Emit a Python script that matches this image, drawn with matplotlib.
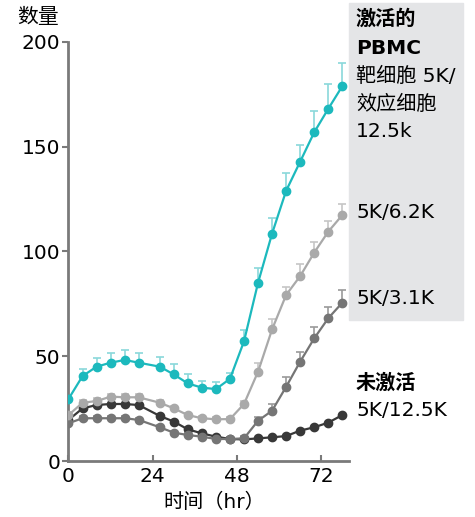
import matplotlib.pyplot as plt

plt.rcParams['font.family'] = ['DejaVu Sans', 'Noto Sans CJK SC']

# 时间点 (hr)
hours = [0, 4, 8, 12, 16, 20, 26, 30, 34, 38, 42, 46, 50, 54, 58, 62, 66, 70, 74, 78]

# 激活的 PBMC 靶细胞 5K/效应细胞 12.5k
act_12 = [29.6, 40.5, 45.0, 46.9, 48.2, 46.9, 45.0, 41.3, 37.0, 35.0, 34.3, 39.2,
          57.1, 85.0, 108.5, 128.9, 142.8, 156.8, 168.0, 178.8]
act_12_err = [0.5, 3.2, 4.0, 4.8, 4.7, 4.8, 4.5, 4.8, 4.3, 3.3, 3.3, 2.9,
              5.4, 6.9, 7.5, 8.3, 7.8, 10.2, 11.7, 10.9]
# 5K/6.2K
act_6 = [21.9, 27.8, 28.6, 30.7, 30.4, 30.4, 27.8, 25.1, 21.9, 20.4, 19.9, 20.0,
         27.2, 42.6, 62.8, 79.2, 88.2, 99.4, 109.4, 117.3]
act_6_err = [1.0, 1.5, 1.5, 1.5, 1.5, 1.5, 1.5, 1.2, 1.0, 1.0, 1.0, 1.0,
             1.5, 4.0, 5.0, 3.7, 5.7, 5.2, 5.2, 5.2]
# 5K/3.1K
act_3 = [18.0, 20.4, 20.4, 20.4, 20.4, 19.6, 16.1, 13.5, 12.4, 11.6, 10.5, 10.5,
         10.8, 19.2, 24.0, 35.4, 47.4, 58.5, 68.1, 75.5]
act_3_err = [1.0, 1.0, 1.0, 1.0, 1.0, 1.0, 1.0, 1.0, 1.0, 1.0, 1.0, 1.0,
             1.0, 2.0, 3.3, 4.7, 4.8, 5.3, 5.5, 6.3]
# 未激活 5K/12.5K
rest = [19.6, 25.1, 26.7, 27.2, 27.2, 26.7, 21.5, 18.8, 15.1, 13.2, 11.6, 10.5,
        10.3, 10.8, 11.3, 11.9, 14.5, 16.1, 18.3, 21.9]

teal = '#1cb9bd'
lgray = '#a9a9a9'
mgray = '#757575'
dgray = '#383838'

fig = plt.figure(figsize=(4.75, 5.17), dpi=100)
ax = fig.add_axes([0.1442, 0.1083, 0.5912, 0.8110])

# 灰色背景框
fig.patches.append(plt.Rectangle((349 / 475, 1 - 320 / 517), 114 / 475, 317 / 517,
                                 transform=fig.transFigure, color='#e4e5e7', zorder=0))


def series(y, err, col, ecol):
    if err is not None:
        ax.errorbar(hours, y, yerr=[[0] * len(err), err], fmt='none', ecolor=ecol,
                    elinewidth=1.2, capsize=3, capthick=1.2, zorder=2)
    ax.plot(hours, y, '-o', color=col, lw=1.6, ms=6, zorder=3)


series(rest, None, dgray, dgray)
series(act_3, act_3_err, mgray, '#9a9a9a')
series(act_6, act_6_err, lgray, '#c6c6c6')
series(act_12, act_12_err, teal, '#8ad8da')

ax.set_xlim(0, 80)
ax.set_ylim(0, 200)
ax.set_xticks([0, 24, 48, 72])
ax.set_yticks([0, 50, 100, 150, 200])
for s in ['top', 'right']:
    ax.spines[s].set_visible(False)
for s in ['left', 'bottom']:
    ax.spines[s].set_color('#7a7a7a')
    ax.spines[s].set_linewidth(2)
ax.tick_params(axis='y', direction='out', length=4, width=1.5, color='#7a7a7a',
               labelsize=14.5, pad=2)
ax.tick_params(axis='x', direction='in', length=4, width=1.5, color='#7a7a7a',
               labelsize=14.5, pad=4)
ax.set_xlabel('时间（hr）', fontsize=14.5)
ax.xaxis.set_label_coords(0.52, -0.075)
fig.text(17 / 475, 1 - 17 / 517, '数量', fontsize=15, va='center', ha='left')

tx = 356 / 475
labels = [
    (19, '激活的', 'bold'),
    (48, 'PBMC', 'bold'),
    (76, '靶细胞 5K/', 'normal'),
    (104, '效应细胞', 'normal'),
    (132, '12.5k', 'normal'),
    (213, '5K/6.2K', 'normal'),
    (298, '5K/3.1K', 'normal'),
    (383, '未激活', 'bold'),
    (411, '5K/12.5K', 'normal'),
]
for yp, t, w in labels:
    fig.text(tx, 1 - yp / 517, t, fontsize=14.5, fontweight=w, va='center', ha='left')

fig.savefig('out.png', dpi=100)
